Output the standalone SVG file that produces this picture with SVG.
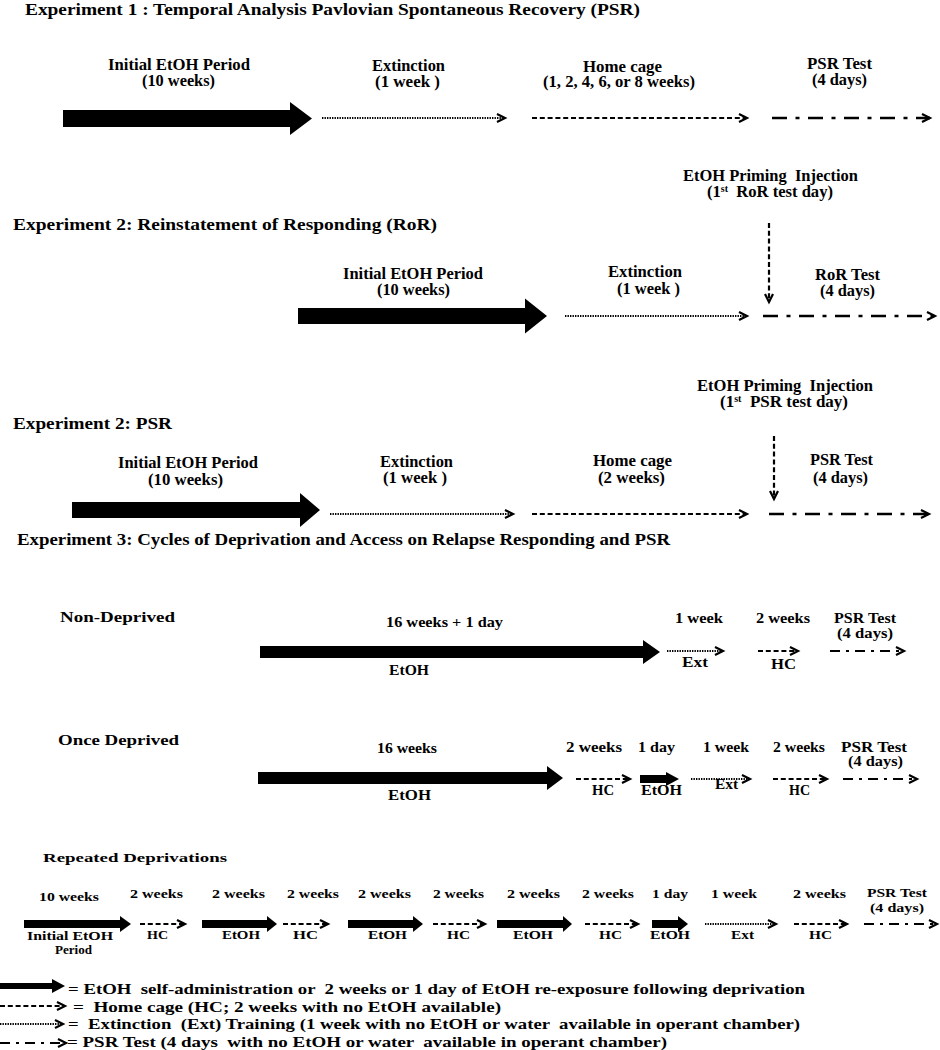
<svg xmlns="http://www.w3.org/2000/svg" width="940" height="1050" viewBox="0 0 940 1050">
<style>
.t{font-family:"Liberation Serif","Times New Roman",serif;font-weight:bold;fill:#000}
.h{font-size:16px}
.s{font-size:14.5px}
.r{font-size:13.5px}
.lg{font-size:15.5px}
.th{fill:#000}
.ln{fill:none;stroke:#000;marker-end:url(#chev)}
.dot{stroke-width:2;stroke-dasharray:1.4 1.1}
.dash{stroke-width:2.2;stroke-dasharray:5 2.8}
.dd{stroke-width:2.4;stroke-dasharray:15 8.5 4 8.5}
.dd2{stroke-width:2.2;stroke-dasharray:10 6 3 6}
</style>
<defs>
<marker id="chev" markerUnits="userSpaceOnUse" markerWidth="14" markerHeight="14" viewBox="-11 -7 14 14" refX="0" refY="0" orient="auto" overflow="visible">
<path d="M-8,-4 L0,0 L-8,4" fill="none" stroke="#000" stroke-width="2.2"/>
</marker>
</defs>

<g id="exp1">
<text class="t h" x="25" y="15" textLength="615" lengthAdjust="spacingAndGlyphs">Experiment 1 : Temporal Analysis Pavlovian Spontaneous Recovery (PSR)</text>
<g id="exp1-etoh">
<text class="t h" x="108" y="70" textLength="142" lengthAdjust="spacingAndGlyphs">Initial EtOH Period</text>
<text class="t h" x="142" y="86" textLength="73" lengthAdjust="spacingAndGlyphs">(10 weeks)</text>
<polygon class="th" points="63,110 290,110 290,102 312,118.5 290,135 290,127 63,127"/>
</g>
<g id="exp1-ext">
<text class="t h" x="372" y="71" textLength="73" lengthAdjust="spacingAndGlyphs">Extinction</text>
<text class="t h" x="375" y="87" textLength="65" lengthAdjust="spacingAndGlyphs">(1 week )</text>
</g>
<g id="exp1-hc">
<text class="t h" x="583" y="72" textLength="79" lengthAdjust="spacingAndGlyphs">Home cage</text>
<text class="t h" x="543" y="87" textLength="152" lengthAdjust="spacingAndGlyphs">(1, 2, 4, 6, or 8 weeks)</text>
</g>
<g id="exp1-psr">
<text class="t h" x="807" y="69" textLength="65" lengthAdjust="spacingAndGlyphs">PSR Test</text>
<text class="t h" x="812" y="85" textLength="55" lengthAdjust="spacingAndGlyphs">(4 days)</text>
</g>
</g>

<g id="exp2-ror">
<text class="t h" x="13" y="230" textLength="424" lengthAdjust="spacingAndGlyphs">Experiment 2: Reinstatement of Responding (RoR)</text>
<g id="ror-etoh">
<text class="t h" x="343" y="279" textLength="140" lengthAdjust="spacingAndGlyphs">Initial EtOH Period</text>
<text class="t h" x="377" y="295" textLength="73" lengthAdjust="spacingAndGlyphs">(10 weeks)</text>
<polygon class="th" points="298,308 525,308 525,298.5 547,316 525,333.5 525,324 298,324"/>
</g>
<g id="ror-ext">
<text class="t h" x="608" y="277" textLength="74" lengthAdjust="spacingAndGlyphs">Extinction</text>
<text class="t h" x="617" y="294" textLength="63" lengthAdjust="spacingAndGlyphs">(1 week )</text>
</g>
<g id="ror-prime">
<text class="t h" x="683" y="181" textLength="175" lengthAdjust="spacingAndGlyphs" xml:space="preserve">EtOH Priming  Injection</text>
<text class="t h" x="707" y="197" textLength="126" lengthAdjust="spacingAndGlyphs" xml:space="preserve">(1<tspan font-size="9.5" baseline-shift="super">st</tspan>  RoR test day)</text>
</g>
<g id="ror-test">
<text class="t h" x="815" y="280" textLength="65" lengthAdjust="spacingAndGlyphs">RoR Test</text>
<text class="t h" x="820" y="296" textLength="55" lengthAdjust="spacingAndGlyphs">(4 days)</text>
</g>
</g>

<g id="exp2-psr">
<text class="t h" x="13" y="429" textLength="159" lengthAdjust="spacingAndGlyphs">Experiment 2: PSR</text>
<g id="psr2-etoh">
<text class="t h" x="118" y="468" textLength="140" lengthAdjust="spacingAndGlyphs">Initial EtOH Period</text>
<text class="t h" x="148" y="485" textLength="75" lengthAdjust="spacingAndGlyphs">(10 weeks)</text>
<polygon class="th" points="72,502 300,502 300,493 320,510 300,527 300,518 72,518"/>
</g>
<g id="psr2-ext">
<text class="t h" x="380" y="467" textLength="73" lengthAdjust="spacingAndGlyphs">Extinction</text>
<text class="t h" x="383" y="483" textLength="64" lengthAdjust="spacingAndGlyphs">(1 week )</text>
</g>
<g id="psr2-hc">
<text class="t h" x="593" y="466" textLength="79" lengthAdjust="spacingAndGlyphs">Home cage</text>
<text class="t h" x="598" y="483" textLength="67" lengthAdjust="spacingAndGlyphs">(2 weeks)</text>
</g>
<g id="psr2-prime">
<text class="t h" x="697" y="391" textLength="176" lengthAdjust="spacingAndGlyphs" xml:space="preserve">EtOH Priming  Injection</text>
<text class="t h" x="720" y="407" textLength="128" lengthAdjust="spacingAndGlyphs" xml:space="preserve">(1<tspan font-size="9.5" baseline-shift="super">st</tspan>  PSR test day)</text>
</g>
<g id="psr2-test">
<text class="t h" x="810" y="465" textLength="63" lengthAdjust="spacingAndGlyphs">PSR Test</text>
<text class="t h" x="813" y="483" textLength="55" lengthAdjust="spacingAndGlyphs">(4 days)</text>
</g>
</g>

<g id="exp3">
<text class="t h" x="17" y="545" textLength="653" lengthAdjust="spacingAndGlyphs">Experiment 3: Cycles of Deprivation and Access on Relapse Responding and PSR</text>
</g>

<g id="non-deprived">
<text class="t s" x="60" y="622" textLength="115" lengthAdjust="spacingAndGlyphs">Non-Deprived</text>
<g id="nd-etoh">
<text class="t s" x="386" y="627" textLength="117" lengthAdjust="spacingAndGlyphs">16 weeks + 1 day</text>
<polygon class="th" points="260,646 643,646 643,640 660,652 643,664 643,658 260,658"/>
<text class="t s" x="389" y="675" textLength="40" lengthAdjust="spacingAndGlyphs">EtOH</text>
</g>
<g id="nd-ext">
<text class="t s" x="675" y="623" textLength="48" lengthAdjust="spacingAndGlyphs">1 week</text>
<text class="t s" x="682" y="667" textLength="26" lengthAdjust="spacingAndGlyphs">Ext</text>
</g>
<g id="nd-hc">
<text class="t s" x="756" y="623" textLength="54" lengthAdjust="spacingAndGlyphs">2 weeks</text>
<text class="t s" x="771" y="669" textLength="25" lengthAdjust="spacingAndGlyphs">HC</text>
</g>
<g id="nd-psr">
<text class="t s" x="834" y="623" textLength="62" lengthAdjust="spacingAndGlyphs">PSR Test</text>
<text class="t s" x="837" y="638" textLength="56" lengthAdjust="spacingAndGlyphs">(4 days)</text>
</g>
</g>

<g id="once-deprived">
<text class="t s" x="58" y="745" textLength="121" lengthAdjust="spacingAndGlyphs">Once Deprived</text>
<g id="od-etoh">
<text class="t s" x="377" y="753" textLength="60" lengthAdjust="spacingAndGlyphs">16 weeks</text>
<polygon class="th" points="258,772 547,772 547,766 563,778 547,790 547,784 258,784"/>
<text class="t s" x="388" y="800" textLength="43" lengthAdjust="spacingAndGlyphs">EtOH</text>
</g>
<g id="od-hc1">
<text class="t s" x="566" y="752" textLength="56" lengthAdjust="spacingAndGlyphs">2 weeks</text>
<text class="t s" x="592" y="795" textLength="22" lengthAdjust="spacingAndGlyphs">HC</text>
</g>
<g id="od-etoh2">
<text class="t s" x="638" y="752" textLength="37" lengthAdjust="spacingAndGlyphs">1 day</text>
<polygon class="th" points="640,775 666,775 666,772 679,779 666,786 666,783 640,783"/>
<text class="t s" x="641" y="795" textLength="41" lengthAdjust="spacingAndGlyphs">EtOH</text>
</g>
<g id="od-ext">
<text class="t s" x="703" y="752" textLength="46" lengthAdjust="spacingAndGlyphs">1 week</text>
<text class="t s" x="715" y="789" textLength="23" lengthAdjust="spacingAndGlyphs">Ext</text>
</g>
<g id="od-hc2">
<text class="t s" x="773" y="752" textLength="52" lengthAdjust="spacingAndGlyphs">2 weeks</text>
<text class="t s" x="789" y="795" textLength="21" lengthAdjust="spacingAndGlyphs">HC</text>
</g>
<g id="od-psr">
<text class="t s" x="841" y="752" textLength="66" lengthAdjust="spacingAndGlyphs">PSR Test</text>
<text class="t s" x="848" y="766" textLength="55" lengthAdjust="spacingAndGlyphs">(4 days)</text>
</g>
</g>

<g id="repeated">
<text class="t r" x="43" y="862" textLength="184" lengthAdjust="spacingAndGlyphs">Repeated Deprivations</text>
<g id="rd-etoh1">
<text class="t r" x="39" y="901" textLength="60" lengthAdjust="spacingAndGlyphs">10 weeks</text>
<polygon class="th" points="24,920 120,920 120,916 131,924 120,932 120,928 24,928"/>
<text class="t r" x="27" y="940" textLength="86" lengthAdjust="spacingAndGlyphs">Initial EtOH</text>
<text class="t r" x="55" y="954" textLength="37" lengthAdjust="spacingAndGlyphs">Period</text>
</g>
<g id="rd-hc1">
<text class="t r" x="130" y="898" textLength="53" lengthAdjust="spacingAndGlyphs">2 weeks</text>
<text class="t r" x="147" y="939" textLength="21" lengthAdjust="spacingAndGlyphs">HC</text>
</g>
<g id="rd-etoh2">
<text class="t r" x="212" y="898" textLength="53" lengthAdjust="spacingAndGlyphs">2 weeks</text>
<polygon class="th" points="202,920 267,920 267,916 277,924 267,932 267,928 202,928"/>
<text class="t r" x="222" y="939" textLength="38" lengthAdjust="spacingAndGlyphs">EtOH</text>
</g>
<g id="rd-hc2">
<text class="t r" x="287" y="898" textLength="52" lengthAdjust="spacingAndGlyphs">2 weeks</text>
<text class="t r" x="293" y="939" textLength="25" lengthAdjust="spacingAndGlyphs">HC</text>
</g>
<g id="rd-etoh3">
<text class="t r" x="358" y="898" textLength="53" lengthAdjust="spacingAndGlyphs">2 weeks</text>
<polygon class="th" points="348,920 413,920 413,916 423,924 413,932 413,928 348,928"/>
<text class="t r" x="368" y="939" textLength="39" lengthAdjust="spacingAndGlyphs">EtOH</text>
</g>
<g id="rd-hc3">
<text class="t r" x="433" y="898" textLength="51" lengthAdjust="spacingAndGlyphs">2 weeks</text>
<text class="t r" x="447" y="939" textLength="23" lengthAdjust="spacingAndGlyphs">HC</text>
</g>
<g id="rd-etoh4">
<text class="t r" x="507" y="898" textLength="53" lengthAdjust="spacingAndGlyphs">2 weeks</text>
<polygon class="th" points="497,920 563,920 563,916 572,924 563,932 563,928 497,928"/>
<text class="t r" x="513" y="939" textLength="40" lengthAdjust="spacingAndGlyphs">EtOH</text>
</g>
<g id="rd-hc4">
<text class="t r" x="582" y="898" textLength="52" lengthAdjust="spacingAndGlyphs">2 weeks</text>
<text class="t r" x="599" y="939" textLength="23" lengthAdjust="spacingAndGlyphs">HC</text>
</g>
<g id="rd-etoh5">
<text class="t r" x="652" y="898" textLength="36" lengthAdjust="spacingAndGlyphs">1 day</text>
<polygon class="th" points="652,920 678,920 678,916 688,924 678,932 678,928 652,928"/>
<text class="t r" x="650" y="939" textLength="40" lengthAdjust="spacingAndGlyphs">EtOH</text>
</g>
<g id="rd-ext">
<text class="t r" x="711" y="898" textLength="46" lengthAdjust="spacingAndGlyphs">1 week</text>
<text class="t r" x="731" y="939" textLength="23" lengthAdjust="spacingAndGlyphs">Ext</text>
</g>
<g id="rd-hc5">
<text class="t r" x="793" y="898" textLength="53" lengthAdjust="spacingAndGlyphs">2 weeks</text>
<text class="t r" x="809" y="939" textLength="23" lengthAdjust="spacingAndGlyphs">HC</text>
</g>
<g id="rd-psr">
<text class="t r" x="867" y="897" textLength="60" lengthAdjust="spacingAndGlyphs">PSR Test</text>
<text class="t r" x="870" y="912" textLength="54" lengthAdjust="spacingAndGlyphs">(4 days)</text>
</g>
</g>

<g id="legend">
<polygon class="th" points="0,983 52,983 52,979 65,986 52,993 52,989 0,989"/>
<text class="t lg" x="68" y="994" textLength="737" lengthAdjust="spacingAndGlyphs" xml:space="preserve">= EtOH  self-administration or  2 weeks or 1 day of EtOH re-exposure following deprivation</text>
<text class="t lg" x="73" y="1011.5" textLength="428" lengthAdjust="spacingAndGlyphs" xml:space="preserve">=  Home cage (HC; 2 weeks with no EtOH available)</text>
<text class="t lg" x="68" y="1029" textLength="732" lengthAdjust="spacingAndGlyphs" xml:space="preserve">=  Extinction  (Ext) Training (1 week with no EtOH or water  available in operant chamber)</text>
<text class="t lg" x="67" y="1046.5" textLength="600" lengthAdjust="spacingAndGlyphs" xml:space="preserve">= PSR Test (4 days  with no EtOH or water  available in operant chamber)</text>
</g>

<g id="connectors">
<line class="ln dot" x1="322" y1="118" x2="505" y2="118"/>
<line class="ln dash" x1="532" y1="118" x2="747" y2="118"/>
<line class="ln dd" x1="772" y1="118" x2="930" y2="118"/>

<line class="ln dot" x1="565" y1="316" x2="747" y2="316"/>
<line class="ln dd" x1="763" y1="316" x2="935" y2="316"/>
<line class="ln dash" x1="769" y1="223" x2="769" y2="302"/>

<line class="ln dot" x1="330" y1="514" x2="513" y2="514"/>
<line class="ln dash" x1="532" y1="514" x2="747" y2="514"/>
<line class="ln dd" x1="769" y1="514" x2="929" y2="514"/>
<line class="ln dash" x1="774" y1="436" x2="774" y2="499"/>

<line class="ln dot" x1="667" y1="651" x2="723" y2="651"/>
<line class="ln dash" x1="758" y1="651" x2="798" y2="651"/>
<line class="ln dd2" x1="830" y1="651" x2="904" y2="651"/>

<line class="ln dash" x1="576" y1="779" x2="630" y2="779"/>
<line class="ln dot" x1="691" y1="779" x2="750" y2="779"/>
<line class="ln dash" x1="773" y1="779" x2="827" y2="779"/>
<line class="ln dd2" x1="843" y1="779" x2="917" y2="779"/>

<line class="ln dash" x1="140" y1="924" x2="185" y2="924"/>
<line class="ln dash" x1="283" y1="924" x2="328" y2="924"/>
<line class="ln dash" x1="433" y1="924" x2="485" y2="924"/>
<line class="ln dash" x1="585" y1="924" x2="638" y2="924"/>
<line class="ln dot" x1="705" y1="924" x2="776" y2="924"/>
<line class="ln dash" x1="794" y1="924" x2="847" y2="924"/>
<line class="ln dd2" x1="864" y1="924" x2="937" y2="924"/>

<line class="ln dash" x1="0" y1="1006" x2="65" y2="1006"/>
<line class="ln dot" x1="0" y1="1024" x2="63" y2="1024"/>
<line class="ln dd2" x1="0" y1="1043" x2="66" y2="1043"/>
</g>
</svg>
